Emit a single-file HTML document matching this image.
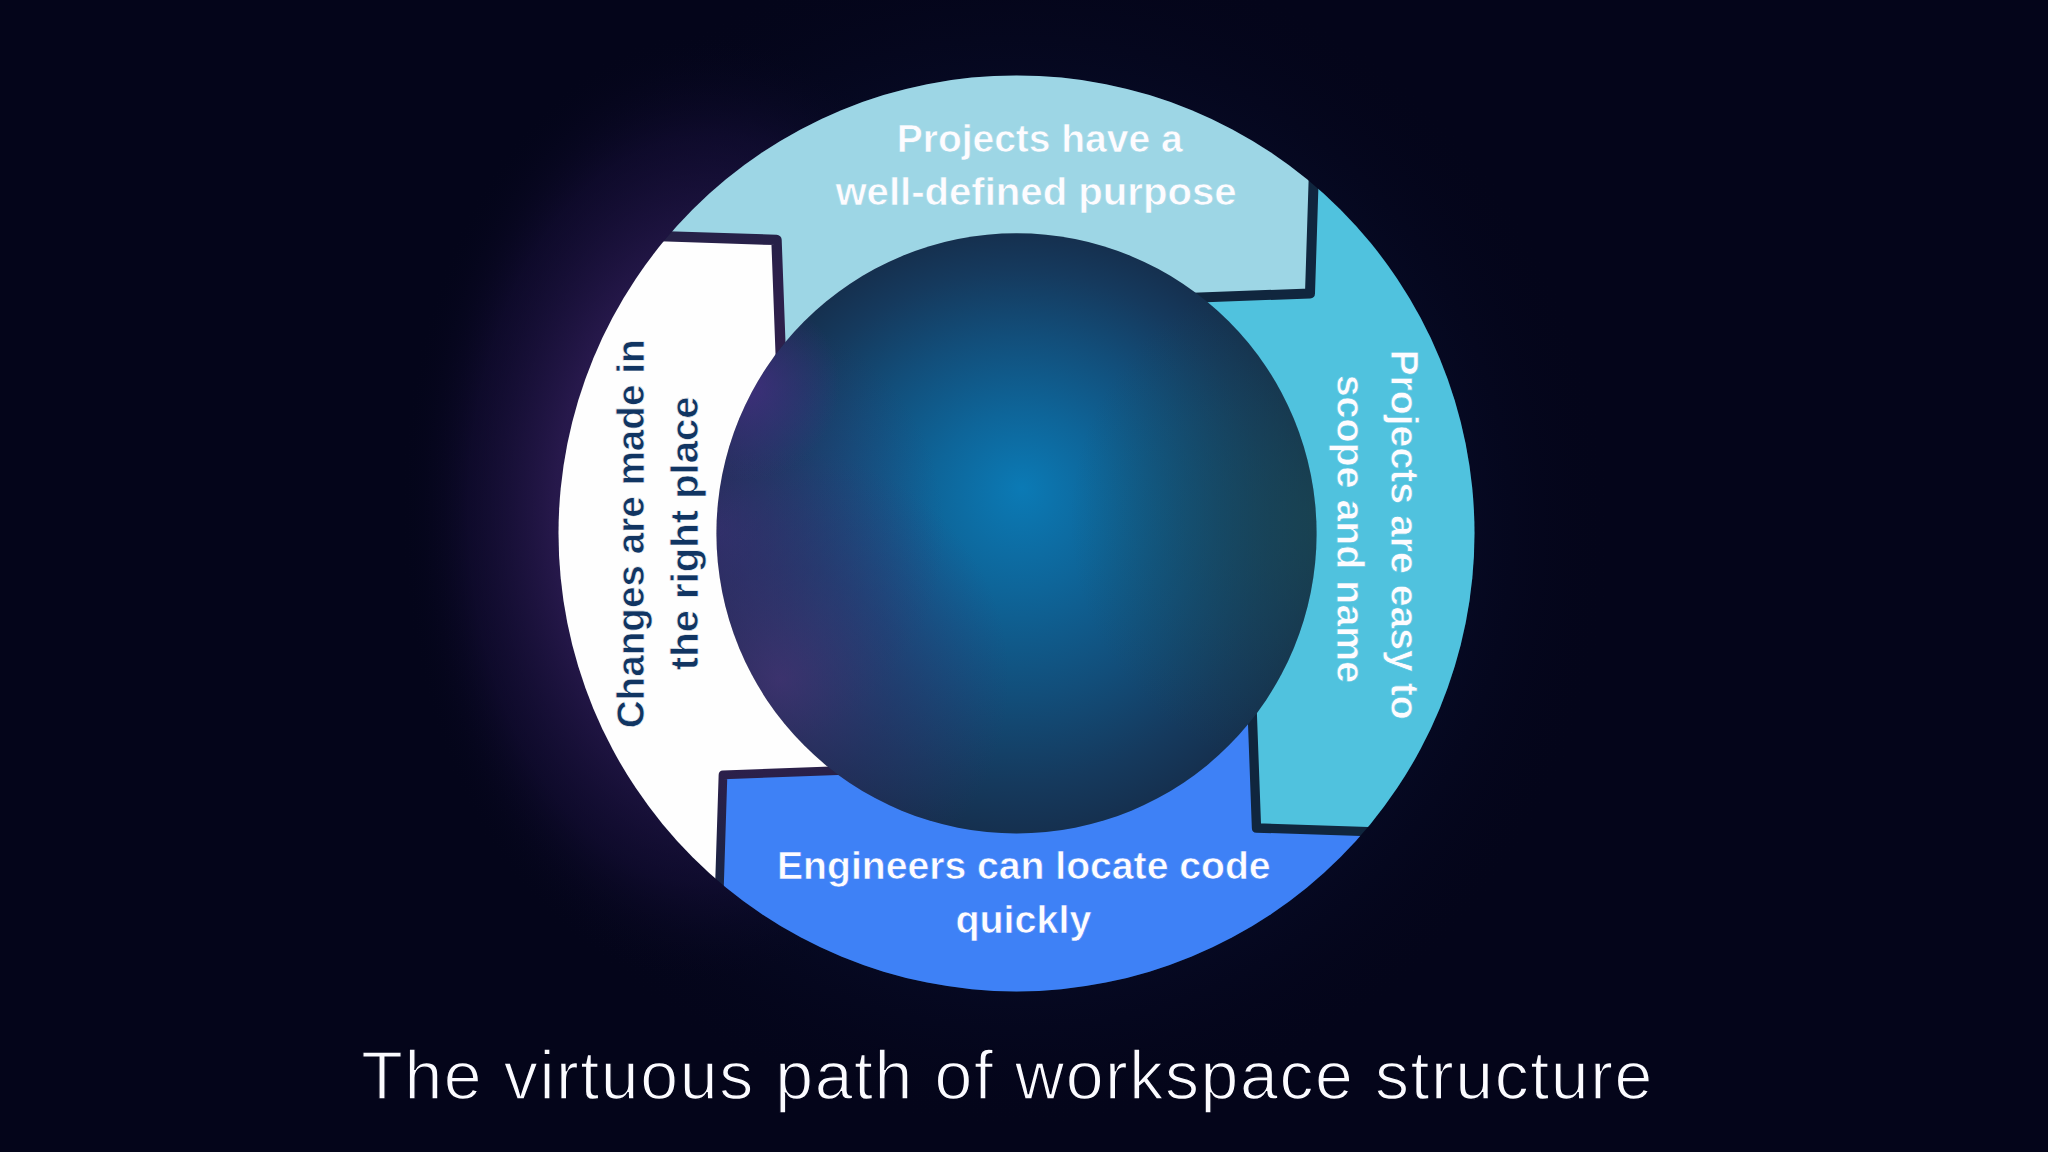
<!DOCTYPE html>
<html><head><meta charset="utf-8">
<style>
html,body{margin:0;padding:0;width:2048px;height:1152px;overflow:hidden;background:#04051a;}
svg{display:block;}
text{font-family:"Liberation Sans",sans-serif;}
.lb{font-weight:bold;font-size:39.2px;}
</style></head><body>
<svg width="2048" height="1152" viewBox="0 0 2048 1152">
<defs>
 <radialGradient id="bgGlow" gradientUnits="userSpaceOnUse" cx="710" cy="510" r="310" gradientTransform="translate(710 510) scale(1 1.55) translate(-710 -510)">
  <stop offset="0" stop-color="#3a2468" stop-opacity="1"/>
  <stop offset="0.5" stop-color="#2c1b52" stop-opacity="0.85"/>
  <stop offset="0.78" stop-color="#180f3a" stop-opacity="0.5"/>
  <stop offset="1" stop-color="#04051a" stop-opacity="0"/>
 </radialGradient>
 <radialGradient id="halo" gradientUnits="userSpaceOnUse" cx="1016.5" cy="533.4" r="600">
  <stop offset="0.74" stop-color="#0a1030" stop-opacity="0.4"/>
  <stop offset="1" stop-color="#04051a" stop-opacity="0"/>
 </radialGradient>
 <radialGradient id="sph" gradientUnits="userSpaceOnUse" cx="1016.5" cy="533.4" r="300.1" fx="1022" fy="488">
  <stop offset="0" stop-color="#0b7ab5"/>
  <stop offset="0.3" stop-color="#0e6599"/>
  <stop offset="0.6" stop-color="#124e7a"/>
  <stop offset="0.85" stop-color="#153a5e"/>
  <stop offset="1" stop-color="#15304f"/>
 </radialGradient>
 <radialGradient id="sphPurple" gradientUnits="userSpaceOnUse" cx="715" cy="530" r="230">
  <stop offset="0" stop-color="#40307a" stop-opacity="0.6"/>
  <stop offset="0.5" stop-color="#3a2d6e" stop-opacity="0.25"/>
  <stop offset="1" stop-color="#3a2d6e" stop-opacity="0"/>
 </radialGradient>
 <radialGradient id="spot1" gradientUnits="userSpaceOnUse" cx="745" cy="385" r="95">
  <stop offset="0" stop-color="#4a2f88" stop-opacity="0.75"/>
  <stop offset="1" stop-color="#4a2f88" stop-opacity="0"/>
 </radialGradient>
 <radialGradient id="spot2" gradientUnits="userSpaceOnUse" cx="780" cy="680" r="230">
  <stop offset="0" stop-color="#4d3278" stop-opacity="0.65"/>
  <stop offset="0.5" stop-color="#3a2d6e" stop-opacity="0.35"/>
  <stop offset="1" stop-color="#3a2d6e" stop-opacity="0"/>
 </radialGradient>
 <radialGradient id="gapPurple" gradientUnits="userSpaceOnUse" cx="720" cy="520" r="420">
  <stop offset="0" stop-color="#33214f" stop-opacity="1"/>
  <stop offset="0.6" stop-color="#2f1f4c" stop-opacity="0.9"/>
  <stop offset="1" stop-color="#2f1f4c" stop-opacity="0"/>
 </radialGradient>
 <radialGradient id="sphTeal" gradientUnits="userSpaceOnUse" cx="1330" cy="520" r="260">
  <stop offset="0" stop-color="#1a4a52" stop-opacity="0.7"/>
  <stop offset="1" stop-color="#1a4a52" stop-opacity="0"/>
 </radialGradient>
 <clipPath id="annClip"><path clip-rule="evenodd" d="M 558.5 533.4 a 458 458 0 1 0 916 0 a 458 458 0 1 0 -916 0 Z M 716.4 533.4 a 300.1 300.1 0 1 0 600.2 0 a 300.1 300.1 0 1 0 -600.2 0 Z"/></clipPath>
 <clipPath id="outerClip"><circle cx="1016.5" cy="533.4" r="458"/></clipPath>
 <clipPath id="innerClip"><circle cx="1016.5" cy="533.4" r="300.1"/></clipPath>
 <mask id="gapMask" maskUnits="userSpaceOnUse" x="0" y="0" width="2048" height="1152">
  <rect width="2048" height="1152" fill="#fff"/>
  <circle cx="1016.5" cy="533.4" r="300.1" fill="#000"/>
  <g fill="none" stroke="#000" stroke-linejoin="round">
   <polyline stroke-width="10.4" points="576.60,233.50 776.50,239.90 782.79,409.78"/>
   <polyline stroke-width="10" points="1316.40,93.50 1310.00,293.40 1140.12,299.69"/>
   <polyline stroke-width="9.3" points="1456.40,834.40 1256.50,828.00 1250.21,658.12"/>
   <polyline stroke-width="8.7" points="716.60,974.80 723.00,774.90 892.88,768.61"/>
  </g>
 </mask>
</defs>
<rect width="2048" height="1152" fill="#04051a"/>
<rect width="2048" height="1152" fill="url(#halo)"/>
<rect width="2048" height="1152" fill="url(#bgGlow)"/>
<circle cx="1016.5" cy="533.4" r="458" fill="#10263e"/>
<circle cx="1016.5" cy="533.4" r="300.1" fill="url(#sph)"/>
<g clip-path="url(#innerClip)">
 <rect x="700" y="220" width="640" height="640" fill="url(#sphTeal)"/>
 <rect x="700" y="220" width="640" height="640" fill="url(#sphPurple)"/>
 <rect x="700" y="220" width="640" height="640" fill="url(#spot1)"/>
 <rect x="700" y="220" width="640" height="640" fill="url(#spot2)"/>
</g>
<g clip-path="url(#annClip)">
 <rect x="550" y="70" width="930" height="930" fill="url(#gapPurple)"/>
</g>
<g clip-path="url(#outerClip)">
 <g mask="url(#gapMask)">
 <polygon points="782.79,409.78 776.50,239.90 576.60,233.50 576.60,-226.60 1776.50,-226.60 1776.50,93.50 1316.40,93.50 1310.00,293.40 1140.12,299.69 1016.50,533.40" fill="#9dd6e5"/>
 <polygon points="1140.12,299.69 1310.00,293.40 1316.40,93.50 1776.50,93.50 1776.50,1293.40 1456.40,1293.40 1456.40,834.40 1256.50,828.00 1250.21,658.12 1016.50,533.40" fill="#50c2de"/>
 <polygon points="1250.21,658.12 1256.50,828.00 1456.40,834.40 1456.40,1293.40 256.50,1293.40 256.50,973.30 716.60,974.80 723.00,774.90 892.88,768.61 1016.50,533.40" fill="#3e81f6"/>
 <polygon points="892.88,768.61 723.00,774.90 716.60,974.80 256.50,973.30 256.50,-226.60 576.60,-226.60 576.60,233.50 776.50,239.90 782.79,409.78 1016.50,533.40" fill="#fefefe"/>
 </g>
</g>
<g class="lb" fill="#fdfcff" text-anchor="middle">
 <text stroke="#9dd6e5" stroke-width="0.6" x="1039.7" y="151.6" textLength="285.8" lengthAdjust="spacingAndGlyphs">Projects have a</text>
 <text stroke="#9dd6e5" stroke-width="0.6" x="1036.0" y="204.9" textLength="401.2" lengthAdjust="spacingAndGlyphs">well-defined purpose</text>
 <text stroke="#50c2de" stroke-width="0.6" transform="translate(1390.9,534.55) rotate(90)" textLength="370.3" lengthAdjust="spacingAndGlyphs">Projects are easy to</text>
 <text stroke="#50c2de" stroke-width="0.6" transform="translate(1337.2,528.95) rotate(90)" textLength="308.5" lengthAdjust="spacingAndGlyphs">scope and name</text>
 <text stroke="#3e81f6" stroke-width="0.6" x="1023.8" y="879.1" textLength="493.6" lengthAdjust="spacingAndGlyphs">Engineers can locate code</text>
 <text stroke="#3e81f6" stroke-width="0.6" x="1023.4" y="933.3" textLength="136" lengthAdjust="spacingAndGlyphs">quickly</text>
</g>
<g class="lb" fill="#113562" stroke="#fefefe" stroke-width="0.6" text-anchor="middle">
 <text transform="translate(644.0,533.9) rotate(-90)" textLength="388.8" lengthAdjust="spacingAndGlyphs">Changes are made in</text>
 <text transform="translate(698.0,533.3) rotate(-90)" textLength="273.7" lengthAdjust="spacingAndGlyphs">the right place</text>
</g>
<text x="1006.8" y="1098.75" fill="#fbfbff" stroke="#04051a" stroke-width="1.4" text-anchor="middle" font-size="68" textLength="1291" lengthAdjust="spacing">The virtuous path of workspace structure</text>
</svg>
</body></html>
